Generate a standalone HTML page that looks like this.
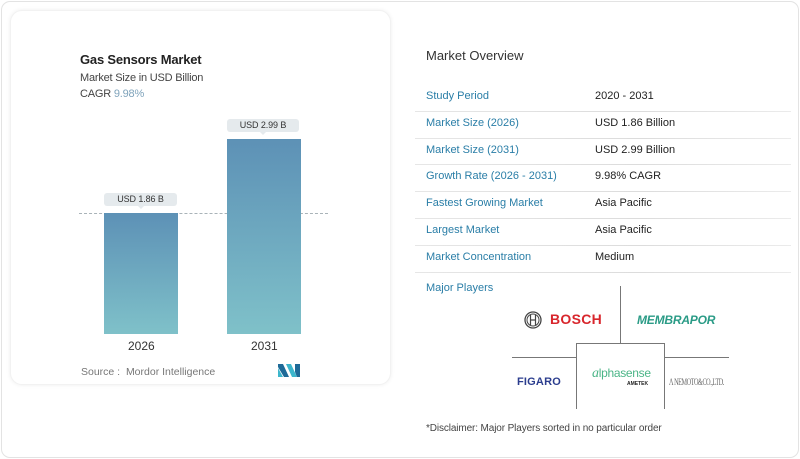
<!DOCTYPE html>
<html><head><meta charset="utf-8">
<style>
*{margin:0;padding:0;box-sizing:border-box}
html,body{width:800px;height:459px;background:#fff;overflow:hidden;font-family:"Liberation Sans",sans-serif}
.outer{position:absolute;left:1px;top:1px;width:798px;height:457px;border:1px solid #e3e3e3;border-radius:9px;background:#fff}
.inner{position:absolute;left:10px;top:10px;width:381px;height:375px;border-radius:12px;background:#fff;box-shadow:0 0 4px rgba(0,0,0,0.07);border:1px solid #f2f2f2}
.t{position:absolute;white-space:nowrap}
.bar{position:absolute;background:linear-gradient(#5d91b6,#7dbfc8)}
.bub{position:absolute;background:#e5eaed;border-radius:3px;font-size:9px;color:#333;text-align:center;line-height:13px;letter-spacing:-0.1px}
.bub:after{content:"";position:absolute;left:50%;margin-left:-3px;bottom:-3px;border-left:3px solid transparent;border-right:3px solid transparent;border-top:3px solid #e5eaed}
.lbl{position:absolute;left:426px;font-size:11px;color:#2a7ea7;white-space:nowrap}
.val{position:absolute;left:595px;font-size:11px;color:#222;white-space:nowrap}
.sep{position:absolute;left:415px;width:376px;height:1px;background:linear-gradient(90deg,#e6e6e6,#dcdcdc 60%,#ebebeb)}
</style></head><body>
<div class="outer"></div>
<div class="inner"></div>

<div class="t" style="left:80px;top:52px;font-size:13px;font-weight:bold;color:#222;letter-spacing:-0.2px">Gas Sensors Market</div>
<div class="t" style="left:80px;top:72px;font-size:11px;color:#444;letter-spacing:-0.2px">Market Size in USD Billion</div>
<div class="t" style="left:80px;top:88px;font-size:11px;color:#444;letter-spacing:-0.2px">CAGR <span style="color:#7fa3bb">9.98%</span></div>

<div style="position:absolute;left:79px;top:213px;width:249px;height:0;border-top:1px dashed #a9b3b8"></div>
<div class="bar" style="left:104px;top:213px;width:74px;height:121px;background:linear-gradient(#5d91b6,#7fc1c9)"></div>
<div class="bar" style="left:227px;top:139px;width:74px;height:195px;background:linear-gradient(#5d91b6,#7fc1c9)"></div>
<div class="bub" style="left:104px;top:193px;width:73px;height:13px">USD 1.86 B</div>
<div class="bub" style="left:227px;top:119px;width:72px;height:13px">USD 2.99 B</div>

<div class="t" style="left:128px;top:339px;font-size:12px;color:#333">2026</div>
<div class="t" style="left:251px;top:339px;font-size:12px;color:#333">2031</div>

<div class="t" style="left:81px;top:366px;font-size:10.5px;color:#777">Source :&nbsp; Mordor Intelligence</div>
<svg style="position:absolute;left:278px;top:364px" width="23" height="13" viewBox="0 0 23 13">
<polygon points="0,0 5,0 11,13 6,13 0,3" fill="#1e6a98"/>
<polygon points="0,4 5,13 0,13" fill="#3cb6cc"/>
<polygon points="8,0 13,0 19,13 14,13" fill="#3cb6cc"/>
<polygon points="17,0 22,0 22,13 19,13 17,8" fill="#1e6a98"/>
</svg>

<div class="t" style="left:426px;top:48px;font-size:13px;color:#333">Market Overview</div>

<div class="lbl" style="top:90px">Study Period</div><div class="val" style="top:90px">2020 - 2031</div>
<div class="sep" style="top:111px"></div>
<div class="lbl" style="top:117px">Market Size (2026)</div><div class="val" style="top:117px">USD 1.86 Billion</div>
<div class="sep" style="top:138px"></div>
<div class="lbl" style="top:144px">Market Size (2031)</div><div class="val" style="top:144px">USD 2.99 Billion</div>
<div class="sep" style="top:164px"></div>
<div class="lbl" style="top:170px">Growth Rate (2026 - 2031)</div><div class="val" style="top:170px">9.98% CAGR</div>
<div class="sep" style="top:191px"></div>
<div class="lbl" style="top:197px">Fastest Growing Market</div><div class="val" style="top:197px">Asia Pacific</div>
<div class="sep" style="top:218px"></div>
<div class="lbl" style="top:224px">Largest Market</div><div class="val" style="top:224px">Asia Pacific</div>
<div class="sep" style="top:245px"></div>
<div class="lbl" style="top:251px">Market Concentration</div><div class="val" style="top:251px">Medium</div>
<div class="sep" style="top:272px"></div>

<div class="lbl" style="top:282px">Major Players</div>

<div style="position:absolute;left:620px;top:286px;width:1px;height:57px;background:#777"></div>
<div style="position:absolute;left:576px;top:343px;width:89px;height:66px;border:1px solid #777;border-bottom:none"></div>
<div style="position:absolute;left:512px;top:357px;width:64px;height:1px;background:#777"></div>
<div style="position:absolute;left:665px;top:357px;width:64px;height:1px;background:#777"></div>

<svg style="position:absolute;left:524px;top:311px" width="18" height="18" viewBox="0 0 18 18">
<circle cx="9" cy="9" r="8" fill="none" stroke="#444" stroke-width="1.3"/>
<circle cx="9" cy="9" r="6" fill="none" stroke="#444" stroke-width="1"/>
<line x1="6.5" y1="4" x2="6.5" y2="14" stroke="#444" stroke-width="1.2"/>
<line x1="11.5" y1="4" x2="11.5" y2="14" stroke="#444" stroke-width="1.2"/>
<line x1="6.5" y1="9" x2="11.5" y2="9" stroke="#444" stroke-width="1.2"/>
</svg>
<div class="t" style="left:550px;top:311px;font-size:14px;font-weight:bold;color:#d8262c;letter-spacing:0.3px">BOSCH</div>
<div class="t" style="left:637px;top:313px;font-size:12px;font-weight:bold;font-style:italic;color:#2a9b86;letter-spacing:-0.2px">MEMBRAPOR</div>
<div class="t" style="left:517px;top:376px;font-size:11px;font-weight:bold;color:#2b3d8e;letter-spacing:0.2px">FIGARO</div>
<div class="t" style="left:592px;top:366px;font-size:12px;color:#4bb587;letter-spacing:-0.3px"><i style="font-family:'Liberation Serif',serif;font-size:14px">a</i>lphasense</div>
<div class="t" style="left:627px;top:381px;font-size:5px;font-weight:bold;color:#222">AMETEK</div>
<div class="t" style="left:669px;top:377px;font-size:9px;color:#666;font-family:'Liberation Serif',serif;letter-spacing:-0.6px;transform:scaleX(0.69);transform-origin:0 0">&#923; NEMOTO&amp;CO.,LTD.</div>

<div class="t" style="left:426px;top:423px;font-size:10px;color:#444;letter-spacing:-0.12px">*Disclaimer: Major Players sorted in no particular order</div>
</body></html>
